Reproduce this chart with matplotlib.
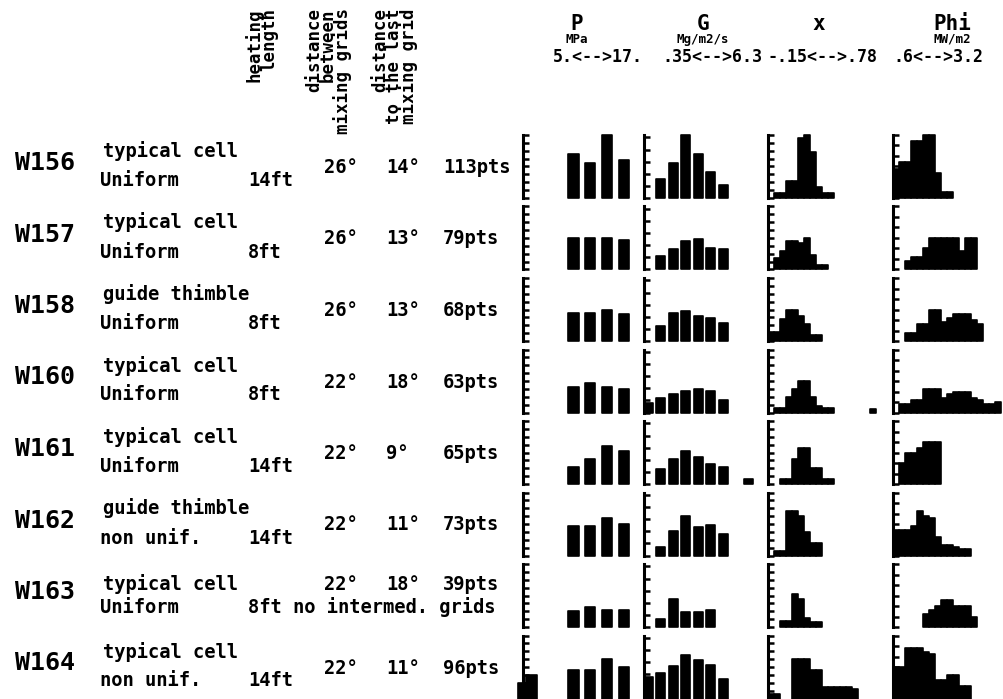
import numpy as np
import matplotlib.pyplot as plt

W, H = 1004, 699

# ---- table part -------------------------------------------------------
runs = ["W156", "W157", "W158", "W160", "W161", "W162", "W163", "W164"]
cell_type = ["typical cell", "typical cell", "guide thimble", "typical cell",
             "typical cell", "guide thimble", "typical cell", "typical cell"]
power_shape = ["Uniform", "Uniform", "Uniform", "Uniform",
               "Uniform", "non unif.", "Uniform", "non unif."]
heated_length = ["14ft", "8ft", "8ft", "8ft", "14ft", "14ft",
                 "8ft no intermed. grids", "14ft"]
grid_span = ["26°", "26°", "26°", "22°", "22°", "22°", "22°", "22°"]
last_grid = ["14°", "13°", "13°", "18°", "9°", "11°", "18°", "11°"]
n_points = [113, 79, 68, 63, 65, 73, 39, 96]

col_heads = ["heating\nlength",
             "distance\nbetween\nmixing grids",
             "distance\nto the last\nmixing grid"]

var_names = ["P", "G", "x", "Phi"]
var_units = ["MPa", "Mg/m2/s", "", "MW/m2"]
var_ranges = ["5.<-->17.", ".35<-->6.3", "-.15<-->.78", ".6<-->3.2"]

# ---- histogram counts (one list per run, bins from low to high) --------
p_counts = [
    [0, 0, 0, 0, 0, 0, 28, 0, 22, 0, 40, 0, 24],
    [0, 0, 0, 0, 0, 0, 20, 0, 20, 0, 20, 0, 19],
    [0, 0, 0, 0, 0, 0, 18, 0, 18, 0, 20, 0, 17],
    [0, 0, 0, 0, 0, 0, 16, 0, 19, 0, 16, 0, 15],
    [0, 0, 0, 0, 0, 0, 11, 0, 16, 0, 24, 0, 21],
    [0, 0, 0, 0, 0, 0, 19, 0, 19, 0, 24, 0, 20],
    [0, 0, 0, 0, 0, 0, 10, 0, 13, 0, 11, 0, 11],
    [10, 15, 0, 0, 0, 0, 18, 0, 18, 0, 25, 0, 20],
]
g_counts = [
    [0, 8, 14.5, 26, 18, 10.7, 5.4],
    [0, 5.4, 8.3, 11.6, 12.4, 9, 8.3],
    [0, 6.2, 11.6, 12.4, 10.3, 9.5, 7.4],
    [4, 6, 7.5, 9, 9.5, 9, 5],
    [0, 6.2, 10.3, 13.6, 11, 8.3, 7, 0, 2],
    [0, 3.4, 10.3, 16.5, 11.6, 12.4, 9],
    [0, 3.4, 11.6, 6.2, 6.2, 7],
    [8.7, 10.7, 13.6, 18, 16, 14, 8],
]
x_counts = [
    [0, 3, 3, 11, 11, 38, 40, 29, 7, 3, 3],
    [0, 7, 12, 18, 18, 17, 20, 9, 3, 3],
    [6, 6, 14, 20, 20, 16, 11, 4, 4],
    [0, 3, 3, 10, 15, 20, 20, 10, 4, 3, 3, 0, 0, 0, 0, 0, 0, 2],
    [0, 0, 3, 3, 16, 23, 23, 10, 10, 3, 3],
    [0, 3, 3, 28, 28, 25, 15, 8, 8],
    [0, 0, 4, 4, 21, 18, 6, 3, 3],
    [3, 3, 0, 0, 25, 25, 25, 18, 18, 7, 7, 7, 7, 7, 6],
]
phi_counts = [
    [14, 17, 17, 27, 27, 30, 30, 12, 3, 3],
    [0, 0, 4, 6, 6, 10, 15, 15, 15, 15, 15, 9, 15, 15],
    [0, 0, 4, 4, 8, 8, 15, 15, 9, 11, 13, 13, 13, 10, 8],
    [0, 4, 4, 6, 6, 11, 11, 11, 7, 9, 10, 10, 10, 7, 6, 4, 4, 5],
    [0, 10, 15, 15, 17, 20, 20, 20],
    [12, 12, 12, 14, 21, 19, 18, 9, 5, 5, 4, 3, 3],
    [0, 0, 0, 0, 0, 6, 8, 10, 13, 13, 10, 10, 10, 5],
    [15, 15, 24, 24, 24, 22, 21, 9, 9, 11, 11, 6, 6],
]
all_counts = [p_counts, g_counts, x_counts, phi_counts]

# layout of the small histograms, in figure pixels
col_left = [523, 644, 768, 893]
col_width = [125, 120, 120, 111]
bin_pitch = [8.4, 12.5, 6, 6]
bin_offset = [0, 4.5, 3, 3]
bar_width = [10.5, 9, 6, 6]
y_max = [40, 26, 40, 30]
row_pitch = 71.5
hist_h = 63

MONO = "DejaVu Sans Mono"


def draw_hist(ax, counts, pitch, offset, width, ymax, axw):
    counts = np.asarray(counts, dtype=float)
    pos = offset + pitch * np.arange(len(counts))
    keep = counts > 0
    ax.bar(pos[keep], counts[keep], width=width, color="black",
           edgecolor="black", linewidth=1.2, joinstyle="round", clip_on=False)
    ax.set_xlim(0, axw)
    ax.set_ylim(0, ymax)
    for side in ["top", "right", "bottom"]:
        ax.spines[side].set_visible(False)
    ax.spines["left"].set_linewidth(2.2)
    ax.set_yticks(np.arange(0, ymax + 0.1, 5))
    ax.set_xticks([])
    ax.tick_params(axis="y", direction="in", length=4.5, width=1.8,
                   labelleft=False)
    ax.patch.set_alpha(0)


fig = plt.figure(figsize=(W / 100, H / 100), dpi=100)
bg = fig.add_axes([0, 0, 1, 1])
bg.set_xlim(0, W)
bg.set_ylim(H, 0)
bg.axis("off")

# vertical column headers (read bottom to top, ending at the top)
head_x = [245, 305, 371]
for xh, s in zip(head_x, col_heads):
    bg.text(xh, 8, s, rotation=90, rotation_mode="anchor", ha="right",
            va="top", multialignment="right", linespacing=0.72,
            fontsize=12.5, family=MONO, weight="bold")

# variable headers
name_x = [577, 703, 819, 952]
range_x = [553, 662, 768, 893]
for c in range(4):
    bg.text(name_x[c], 30, var_names[c], ha="center", va="baseline",
            fontsize=15, family=MONO, weight="bold")
    if var_units[c]:
        bg.text(name_x[c], 43, var_units[c], ha="center", va="baseline",
                fontsize=9, family=MONO, weight="bold")
    bg.text(range_x[c], 62, var_ranges[c], ha="left", va="baseline",
            fontsize=12, family=MONO, weight="bold")

# row texts
for r, run in enumerate(runs):
    yb = 170 + row_pitch * r
    long_row = len(heated_length[r]) > 5
    y1 = yb - (9 if long_row else 13)
    y2 = yb + (14 if long_row else 16)
    yn = y1 if long_row else yb + 3
    kw = dict(va="baseline", family=MONO, weight="bold", fontsize=13.5)
    bg.text(15, yb, run, va="baseline", family=MONO, weight="bold", fontsize=18)
    bg.text(103, y1, cell_type[r], **kw)
    bg.text(100, y2, power_shape[r], **kw)
    bg.text(248, y2, heated_length[r], **kw)
    bg.text(324, yn, grid_span[r], **kw)
    bg.text(386, yn, last_grid[r], **kw)
    bg.text(443, yn, f"{n_points[r]}pts", **kw)

# histograms
for r in range(len(runs)):
    base = 198 + row_pitch * r
    for c in range(4):
        ax = fig.add_axes([col_left[c] / W, (H - base) / H,
                           col_width[c] / W, hist_h / H])
        draw_hist(ax, all_counts[c][r], bin_pitch[c], bin_offset[c],
                  bar_width[c], y_max[c], col_width[c])

fig.savefig("out.png", dpi=100, facecolor="white")
